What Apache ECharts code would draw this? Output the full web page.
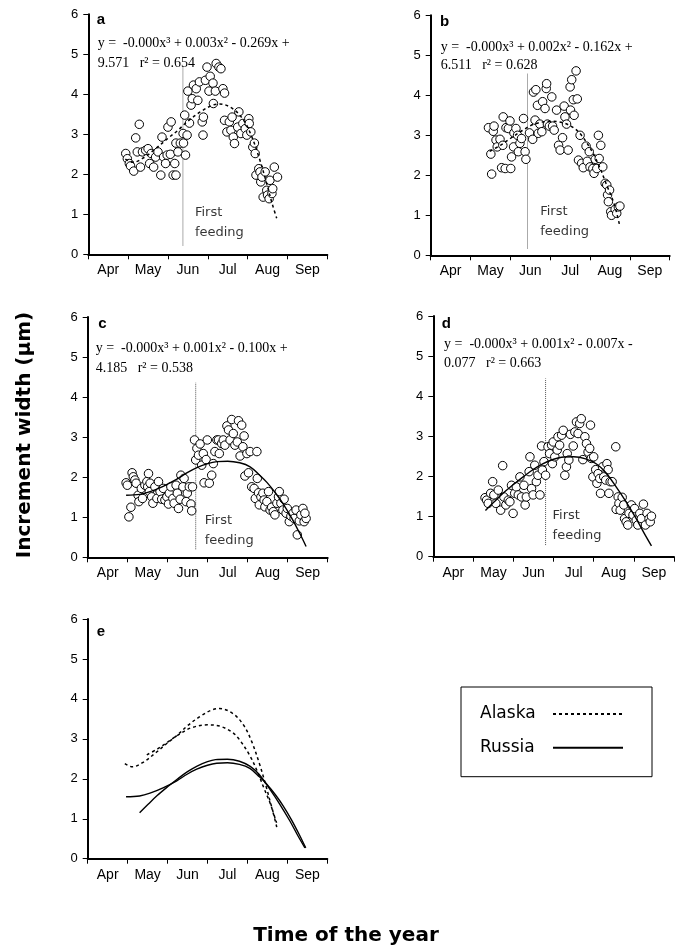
<!DOCTYPE html>
<html>
<head>
<meta charset="utf-8">
<script src="https://cdn.jsdelivr.net/npm/echarts@6/dist/echarts.min.js"></script>
<style>
html,body{margin:0;padding:0;background:#fff;}
#chart{width:678px;height:951px;}
</style>
</head>
<body>
<div id="chart"></div>
<script>
// ---------- DATA (x = months after 1 April, y = increment width in µm) ----------
const months = ['Apr', 'May', 'Jun', 'Jul', 'Aug', 'Sep'];
const panelLetters = ['a', 'b', 'c', 'd', 'e'];

const ptsA = [[0.94,2.52],[0.98,2.39],[1.03,2.27],[1.06,2.21],[1.14,2.08],[1.19,2.91],[1.28,3.25],[1.23,2.56],[1.31,2.18],[1.36,2.56],[1.44,2.6],[1.5,2.64],[1.54,2.27],[1.58,2.52],[1.64,2.18],[1.69,2.43],[1.75,2.56],[1.82,1.98],[1.85,2.93],[1.89,2.43],[1.94,2.27],[1.98,2.48],[2.0,3.18],[2.06,2.5],[2.08,3.31],[2.13,1.98],[2.17,2.27],[2.2,1.98],[2.2,2.78],[2.25,2.56],[2.31,2.78],[2.38,3.02],[2.39,2.78],[2.44,2.48],[2.42,3.48],[2.48,2.98],[2.5,4.08],[2.54,3.28],[2.58,3.73],[2.61,3.89],[2.64,4.23],[2.71,4.14],[2.75,3.85],[2.79,4.31],[2.86,3.31],[2.88,2.98],[2.89,3.43],[2.94,4.35],[2.98,4.68],[3.03,4.08],[3.06,4.45],[3.13,4.28],[3.14,3.77],[3.19,4.08],[3.21,4.77],[3.28,4.68],[3.33,4.64],[3.38,4.14],[3.42,4.03],[3.42,3.35],[3.48,3.06],[3.54,3.31],[3.58,3.1],[3.61,3.43],[3.64,2.93],[3.67,2.77],[3.75,3.18],[3.78,3.56],[3.83,3.02],[3.88,3.27],[3.94,3.14],[3.98,2.98],[4.03,3.39],[4.04,3.27],[4.08,3.06],[4.13,2.68],[4.17,2.78],[4.19,2.52],[4.21,1.98],[4.28,2.14],[4.31,2.06],[4.33,1.81],[4.36,1.93],[4.39,1.43],[4.44,2.06],[4.48,1.6],[4.5,1.48],[4.54,1.39],[4.56,1.85],[4.61,1.52],[4.63,1.64],[4.67,2.18],[4.75,1.93]];

const ptsB = [[1.45,3.19],[1.51,2.53],[1.53,2.03],[1.57,3.1],[1.59,3.23],[1.64,2.88],[1.67,2.71],[1.74,2.9],[1.78,2.19],[1.81,2.75],[1.82,3.46],[1.87,2.17],[1.89,3.19],[1.95,3.17],[1.99,3.36],[2.01,2.17],[2.03,2.46],[2.08,2.71],[2.09,3.06],[2.14,3.17],[2.18,3.0],[2.2,2.59],[2.24,2.8],[2.28,2.92],[2.33,3.42],[2.37,2.59],[2.39,2.4],[2.48,3.06],[2.56,2.9],[2.58,4.08],[2.62,3.38],[2.64,4.14],[2.68,3.75],[2.7,3.05],[2.74,3.28],[2.79,3.09],[2.81,3.84],[2.87,3.67],[2.9,4.17],[2.91,4.29],[2.93,3.28],[2.98,3.23],[3.04,3.96],[3.06,3.23],[3.1,3.13],[3.16,3.63],[3.21,2.75],[3.25,2.63],[3.31,2.94],[3.35,3.73],[3.37,3.46],[3.41,3.28],[3.45,2.63],[3.5,4.21],[3.51,3.63],[3.54,4.39],[3.58,3.89],[3.6,3.5],[3.65,4.61],[3.68,3.91],[3.71,2.38],[3.75,3.0],[3.79,2.3],[3.83,2.19],[3.9,2.73],[3.93,2.35],[3.98,2.59],[4.0,2.21],[4.07,2.17],[4.1,2.05],[4.13,2.4],[4.17,2.17],[4.21,3.0],[4.23,2.42],[4.27,2.75],[4.32,2.21],[4.38,1.8],[4.42,1.76],[4.44,1.51],[4.46,1.34],[4.49,1.63],[4.52,1.09],[4.54,1.0],[4.63,1.15],[4.67,1.05],[4.71,1.21],[4.75,1.23]];

const ptsC = [[0.96,1.86],[0.99,1.8],[1.03,1.01],[1.08,1.25],[1.11,2.11],[1.14,2.01],[1.18,1.93],[1.21,1.85],[1.26,1.55],[1.28,1.39],[1.34,1.72],[1.37,1.47],[1.43,1.8],[1.48,1.89],[1.52,2.09],[1.5,1.76],[1.54,1.64],[1.56,1.85],[1.6,1.51],[1.63,1.35],[1.68,1.76],[1.73,1.47],[1.77,1.89],[1.81,1.64],[1.85,1.45],[1.89,1.72],[1.93,1.43],[1.98,1.51],[2.02,1.33],[2.04,1.6],[2.08,1.76],[2.13,1.47],[2.16,1.35],[2.21,1.8],[2.24,1.6],[2.27,1.22],[2.31,1.45],[2.33,2.05],[2.38,1.76],[2.41,1.97],[2.46,1.39],[2.49,1.6],[2.54,1.76],[2.58,1.33],[2.6,1.16],[2.62,1.76],[2.67,2.93],[2.7,2.43],[2.73,2.72],[2.77,2.55],[2.81,2.83],[2.85,2.3],[2.89,2.59],[2.91,1.86],[2.96,2.44],[2.99,2.93],[3.04,1.85],[3.1,2.05],[3.14,2.34],[3.18,2.64],[3.23,2.93],[3.27,2.93],[3.29,2.59],[3.35,2.84],[3.39,2.93],[3.43,2.8],[3.48,3.28],[3.52,3.18],[3.56,2.93],[3.6,3.44],[3.64,3.09],[3.68,2.8],[3.74,2.88],[3.77,3.41],[3.81,2.53],[3.85,3.3],[3.88,2.76],[3.91,3.03],[3.93,2.03],[3.98,2.59],[4.02,2.11],[4.06,2.64],[4.1,1.76],[4.16,1.72],[4.19,1.47],[4.23,2.64],[4.24,1.97],[4.27,1.61],[4.29,1.31],[4.33,1.51],[4.38,1.6],[4.41,1.43],[4.43,1.26],[4.48,1.39],[4.52,1.64],[4.56,1.18],[4.6,1.25],[4.64,1.14],[4.68,1.06],[4.73,1.35],[4.77,1.51],[4.79,1.64],[4.83,1.35],[4.88,1.18],[4.91,1.45],[4.96,1.1],[4.99,1.22],[5.04,0.89],[5.08,1.03],[5.13,1.1],[5.16,0.97],[5.21,1.18],[5.24,0.56],[5.29,0.91],[5.33,1.06],[5.38,1.22],[5.41,0.89],[5.46,0.97],[5.43,1.1]];

const ptsD = [[1.29,1.47],[1.33,1.41],[1.37,1.33],[1.43,1.58],[1.48,1.87],[1.51,1.54],[1.56,1.33],[1.62,1.66],[1.68,1.16],[1.73,2.27],[1.76,1.49],[1.81,1.29],[1.87,1.41],[1.91,1.37],[1.95,1.78],[1.99,1.08],[2.03,1.58],[2.07,1.74],[2.12,1.54],[2.16,1.99],[2.2,1.49],[2.26,1.78],[2.29,1.29],[2.32,1.49],[2.39,2.12],[2.41,2.49],[2.45,1.7],[2.49,1.54],[2.53,2.28],[2.57,1.87],[2.61,2.03],[2.66,1.54],[2.7,2.76],[2.72,2.16],[2.76,2.37],[2.8,2.03],[2.86,2.74],[2.9,2.57],[2.95,2.78],[2.97,2.32],[2.99,2.86],[3.03,2.49],[3.09,2.66],[3.11,2.99],[3.15,2.78],[3.2,3.03],[3.24,3.15],[3.28,2.03],[3.32,2.24],[3.34,2.57],[3.38,2.41],[3.42,3.05],[3.49,2.76],[3.53,3.11],[3.57,3.36],[3.61,3.07],[3.65,3.32],[3.69,3.44],[3.73,2.42],[3.78,2.99],[3.82,2.82],[3.86,2.61],[3.9,2.7],[3.92,3.28],[3.94,2.45],[3.98,1.99],[4.0,2.49],[4.05,2.17],[4.08,1.83],[4.11,2.07],[4.15,1.95],[4.17,1.58],[4.22,2.24],[4.25,1.99],[4.3,1.91],[4.33,2.32],[4.36,2.17],[4.38,1.58],[4.41,1.87],[4.46,1.87],[4.55,2.74],[4.56,1.18],[4.61,1.49],[4.63,1.33],[4.66,1.16],[4.71,1.48],[4.75,1.29],[4.77,0.95],[4.81,0.87],[4.85,0.79],[4.88,1.08],[4.94,1.29],[4.98,1.04],[5.02,1.2],[5.06,0.91],[5.1,0.79],[5.15,1.08],[5.19,0.95],[5.24,1.31],[5.29,0.79],[5.33,1.08],[5.38,0.95],[5.41,0.87],[5.44,1.01]];

// fitted cubic curves
const fitA = [[0.93,2.38],[1.12,2.3],[1.4,2.42],[1.7,2.65],[2.0,2.9],[2.25,3.1],[2.5,3.33],[2.83,3.57],[3.1,3.72],[3.3,3.76],[3.64,3.63],[3.9,3.35],[4.1,2.95],[4.3,2.38],[4.47,1.8],[4.62,1.25],[4.73,0.9]];
const fitB = [[1.48,2.6],[1.75,2.75],[2.0,2.92],[2.3,3.12],[2.6,3.28],[3.0,3.35],[3.3,3.32],[3.6,3.18],[3.8,2.98],[4.06,2.58],[4.25,2.18],[4.4,1.8],[4.6,1.3],[4.75,0.72]];
const fitC = [[0.96,1.55],[1.3,1.57],[1.56,1.64],[1.9,1.78],[2.23,1.95],[2.5,2.12],[2.73,2.24],[3.0,2.34],[3.23,2.39],[3.5,2.4],[3.8,2.36],[4.06,2.26],[4.3,2.05],[4.48,1.87],[4.7,1.6],[4.89,1.33],[5.1,0.98],[5.3,0.6],[5.46,0.27]];
const fitD = [[1.3,1.15],[1.5,1.35],[1.74,1.58],[2.0,1.8],[2.24,1.99],[2.5,2.18],[2.74,2.32],[3.0,2.43],[3.2,2.48],[3.5,2.49],[3.8,2.44],[4.07,2.31],[4.3,2.1],[4.56,1.74],[4.8,1.38],[5.06,0.95],[5.25,0.6],[5.44,0.27]];

// first-feeding dotted lines
const feedX = [2.375, 2.43, 2.7, 2.8];
const feedTop = [4.68, 4.54, 4.36, 4.44];
const feedBottom = [0.22, 0.17, 0.2, 0.29];
const feedLabelY = [0.78, 0.83, 0.655, 0.775];

const eqLine1 = [
  'y =  -0.000x³ + 0.003x² - 0.269x +',
  'y =  -0.000x³ + 0.002x² - 0.162x +',
  'y =  -0.000x³ + 0.001x² - 0.100x +',
  'y =  -0.000x³ + 0.001x² - 0.007x -'
];
const eqLine2 = [
  '9.571   r² = 0.654',
  '6.511   r² = 0.628',
  '4.185   r² = 0.538',
  '0.077   r² = 0.663'
];
const legendNames = ['Alaska', 'Russia'];

// ---------- LAYOUT ----------
const grids = [
  {left: 88.3, top: 14.3, width: 239, height: 240},
  {left: 430.7, top: 15.3, width: 239, height: 240},
  {left: 87.7, top: 317, width: 240, height: 240.3},
  {left: 433.3, top: 316, width: 240.6, height: 240.7},
  {left: 87.7, top: 619, width: 239.6, height: 239.7}
];
const eqPos = [
  {x: 97.7, y1: 43.6, y2: 63},
  {x: 440.7, y1: 47, y2: 65.3},
  {x: 95.7, y1: 348.6, y2: 368},
  {x: 444, y1: 344.6, y2: 363.6}
];
const letterPos = [[96.7, 19.8], [440, 22.1], [98.3, 324.1], [441.7, 324.1], [96.7, 632.1]];
const feedDist = [12, 12.7, 9, 7];

const SANS = '"Liberation Sans", Arial, sans-serif';
const SERIF = '"Liberation Serif", "Times New Roman", serif';
const WIDE = '"DejaVu Sans", sans-serif';

const xAxes = [], yAxes = [], series = [], graphics = [];

grids.forEach((g, i) => {
  xAxes.push({
    type: 'value', gridIndex: i, min: 0, max: 6, show: false, position: 'top'
  });
  xAxes.push({
    type: 'category', gridIndex: i, data: months, boundaryGap: true, position: 'bottom',
    axisLine: {show: true, onZero: false, lineStyle: {color: '#000', width: 2}},
    axisTick: {show: true, length: 5, alignWithLabel: false, lineStyle: {color: '#000', width: 1}},
    axisLabel: {show: true, color: '#000', fontSize: 14, fontFamily: SANS, margin: 9},
    splitLine: {show: false}
  });
  yAxes.push({
    type: 'value', gridIndex: i, min: 0, max: 6, interval: 1,
    axisLine: {show: true, lineStyle: {color: '#000', width: 2}},
    axisTick: {show: true, length: 5, lineStyle: {color: '#000', width: 1}},
    axisLabel: {color: '#000', fontSize: 13, fontFamily: SANS, margin: 10},
    splitLine: {show: false}
  });
  graphics.push({
    type: 'text', x: letterPos[i][0], y: letterPos[i][1], z: 100,
    style: {text: panelLetters[i], fill: '#000', fontSize: 15, fontWeight: 'bold', fontFamily: SANS,
            align: 'left', verticalAlign: 'middle'}
  });
});

const pts = [ptsA, ptsB, ptsC, ptsD];
const fits = [fitA, fitB, fitC, fitD];
const dashed = [true, true, false, false];

for (let i = 0; i < 4; i++) {
  series.push({
    type: 'scatter', xAxisIndex: 2 * i, yAxisIndex: i, data: pts[i],
    symbol: 'circle', symbolSize: 8.5,
    itemStyle: {color: '#fff', borderColor: '#000', borderWidth: 1, opacity: 1},
    z: 2, silent: true
  });
  series.push({
    type: 'line', xAxisIndex: 2 * i, yAxisIndex: i, data: fits[i], smooth: 0.35,
    symbol: 'none', showSymbol: false,
    lineStyle: {color: '#000', width: dashed[i] ? 1.5 : 1.4, type: dashed[i] ? [3, 3] : 'solid'},
    z: 3, silent: true
  });
  series.push({
    type: 'line', xAxisIndex: 2 * i, yAxisIndex: i,
    data: [[feedX[i], feedBottom[i]], [feedX[i], feedTop[i]]],
    symbol: 'none', lineStyle: {color: '#555', width: 1, type: [1, 1]}, z: 1, silent: true
  });
  series.push({
    type: 'scatter', xAxisIndex: 2 * i, yAxisIndex: i, data: [[feedX[i], feedLabelY[i]]],
    symbolSize: 0, silent: true, z: 4,
    label: {show: true, position: 'right', distance: feedDist[i], formatter: 'First\nfeeding',
            color: '#000', fontSize: 13, fontFamily: WIDE, lineHeight: 20, align: 'left'}
  });
  graphics.push({
    type: 'text', x: eqPos[i].x, y: eqPos[i].y1, z: 100,
    style: {text: eqLine1[i], fill: '#000', fontSize: 14, fontFamily: SERIF, align: 'left', verticalAlign: 'middle'}
  });
  graphics.push({
    type: 'text', x: eqPos[i].x, y: eqPos[i].y2, z: 100,
    style: {text: eqLine2[i], fill: '#000', fontSize: 14, fontFamily: SERIF, align: 'left', verticalAlign: 'middle'}
  });
}

// panel e: the four fitted curves
[fitA, fitB].forEach(f => series.push({
  name: legendNames[0], type: 'line', xAxisIndex: 8, yAxisIndex: 4, data: f, smooth: 0.35,
  symbol: 'none', showSymbol: false, itemStyle: {color: '#000'},
  lineStyle: {color: '#000', width: 1.5, type: [3, 3]}, silent: true
}));
[fitC, fitD].forEach(f => series.push({
  name: legendNames[1], type: 'line', xAxisIndex: 8, yAxisIndex: 4, data: f, smooth: 0.35,
  symbol: 'none', showSymbol: false, itemStyle: {color: '#000'},
  lineStyle: {color: '#000', width: 1.4, type: 'solid'}, silent: true
}));

// axis titles
graphics.push({
  type: 'text', x: 25, y: 435, rotation: Math.PI / 2, z: 100,
  style: {text: 'Increment width (µm)', fill: '#000', fontSize: 20, fontWeight: 'bold', fontFamily: WIDE,
          align: 'center', verticalAlign: 'middle'}
});
graphics.push({
  type: 'text', x: 346, y: 936, z: 100,
  style: {text: 'Time of the year', fill: '#000', fontSize: 20, fontWeight: 'bold', fontFamily: WIDE,
          align: 'center', verticalAlign: 'middle'}
});

const option = {
  animation: false,
  backgroundColor: '#fff',
  grid: grids.map(g => Object.assign({containLabel: false}, g)),
  xAxis: xAxes,
  yAxis: yAxes,
  series: series,
  legend: {
    data: legendNames, orient: 'vertical', left: 461, top: 687,
    align: 'right', itemWidth: 70, itemHeight: 20, itemGap: 13.7,
    padding: [17, 28, 19, 19],
    borderColor: '#000', borderWidth: 1, backgroundColor: '#fff',
    selectedMode: false, inactiveColor: '#000',
    itemStyle: {opacity: 0, borderWidth: 0},
    formatter: '{n|{name}}',
    textStyle: {color: '#000', fontSize: 17, fontFamily: WIDE,
                rich: {n: {width: 68, height: 20, lineHeight: 20, fontSize: 17, fontFamily: WIDE, color: '#000', align: 'left'}}}
  },
  graphic: graphics
};

const chart = echarts.init(document.getElementById('chart'), null, {renderer: 'canvas'});
chart.setOption(option);
</script>
</body>
</html>
